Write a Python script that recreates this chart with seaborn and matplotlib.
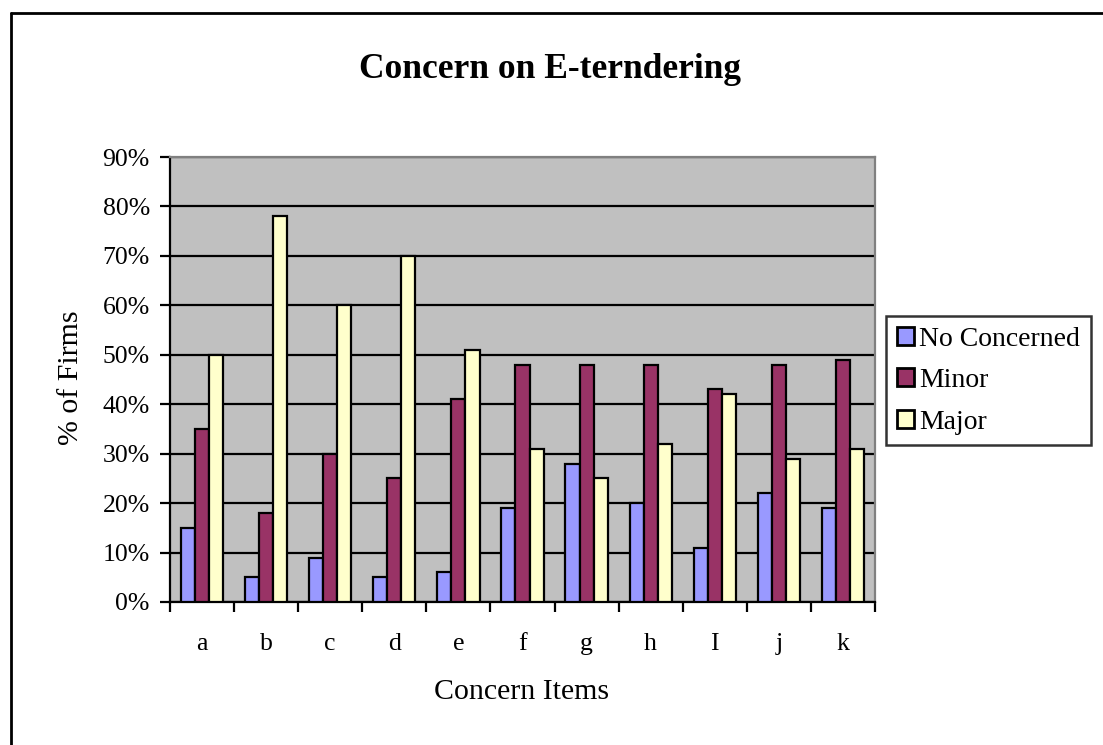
import matplotlib
matplotlib.use("Agg")
import matplotlib.pyplot as plt
from matplotlib.lines import Line2D
from matplotlib.patches import Patch
from matplotlib.ticker import FixedLocator, PercentFormatter
import numpy as np
import pandas as pd
import seaborn as sns

# Survey results: share of firms per concern level
items = ["a", "b", "c", "d", "e", "f", "g", "h", "I", "j", "k"]
no_concerned = [15, 5, 9, 5, 6, 19, 28, 20, 11, 22, 19]
minor = [35, 18, 30, 25, 41, 48, 48, 48, 43, 48, 49]
major = [50, 78, 60, 70, 51, 31, 25, 32, 42, 29, 31]
levels = ["No Concerned", "Minor", "Major"]
colors = ["#9999FF", "#993366", "#FFFFCC"]

df = pd.DataFrame({
    "item": items * 3,
    "level": np.repeat(levels, len(items)),
    "pct": np.array(no_concerned + minor + major) / 100.0,
})

sns.set_theme(style="white")
plt.rcParams["font.family"] = ["Liberation Serif", "DejaVu Serif"]
for key in ("text.color", "axes.labelcolor", "xtick.color", "ytick.color"):
    plt.rcParams[key] = "black"

fig = plt.figure(figsize=(11.03, 7.45), dpi=100)
ax = fig.add_axes([170 / 1103, 1 - 602 / 745, 705 / 1103, 445 / 745])
ax.set_facecolor("#C0C0C0")

sns.barplot(data=df, x="item", y="pct", hue="level", order=items,
            hue_order=levels, palette=colors, width=0.66,
            edgecolor="black", linewidth=1.6, saturation=1,
            legend=False, ax=ax, zorder=3)

ax.set_ylim(0, 0.9)
ax.set_xlim(-0.5, len(items) - 0.5)
ax.yaxis.set_major_locator(FixedLocator(np.arange(0, 0.91, 0.1)))
ax.yaxis.set_major_formatter(PercentFormatter(1.0, decimals=0))
ax.grid(axis="y", color="black", linewidth=1.6, zorder=1)
ax.set_axisbelow(True)

# Category separators as outward ticks, labels centred between them
ax.xaxis.set_major_locator(FixedLocator(np.arange(-0.5, len(items), 1.0)))
ax.xaxis.set_minor_locator(FixedLocator(np.arange(len(items))))
ax.set_xticklabels([])
ax.set_xticklabels(items, minor=True)
ax.tick_params(axis="x", which="major", direction="out", length=7.5,
               width=1.6, color="black", bottom=True)
ax.tick_params(axis="x", which="minor", length=0, pad=22, labelsize=18.5)
ax.tick_params(axis="y", direction="out", length=7.5, width=1.6,
               color="black", left=True, pad=7, labelsize=18.5)

for side in ("left", "bottom"):
    ax.spines[side].set_color("black")
    ax.spines[side].set_linewidth(1.6)
for side in ("top", "right"):
    ax.spines[side].set_color("#808080")
    ax.spines[side].set_linewidth(1.6)

ax.set_xlabel("")
ax.set_ylabel("")
fig.text(522 / 1103, 1 - 692 / 745, "Concern Items", ha="center",
         va="center", fontsize=21.5)
fig.text(71 / 1103, 1 - 378 / 745, "% of Firms", ha="center",
         va="center", rotation=90, fontsize=21.5)

fig.text(550 / 1103, 1 - 70 / 745, "Concern on E-terndering", ha="center",
         va="center", fontsize=25.5, fontweight="bold")

handles = [Patch(facecolor=c, edgecolor="black", linewidth=2.0) for c in colors]
leg = fig.legend(handles, levels, loc="upper left",
                 bbox_to_anchor=(886 / 1103, 1 - 316 / 745),
                 fontsize=20, frameon=True, fancybox=False,
                 edgecolor="black", handlelength=0.62, handleheight=0.62,
                 handletextpad=0.2, borderpad=0.38, labelspacing=0.6,
                 borderaxespad=0)
leg.get_frame().set_linewidth(1.8)

# Chart frame
fig.add_artist(Line2D([11 / 1103, 11 / 1103], [0, 1 - 13 / 745],
                      color="black", linewidth=2))
fig.add_artist(Line2D([11 / 1103, 1], [1 - 13 / 745, 1 - 13 / 745],
                      color="black", linewidth=2))

fig.savefig("out.png", dpi=100)
